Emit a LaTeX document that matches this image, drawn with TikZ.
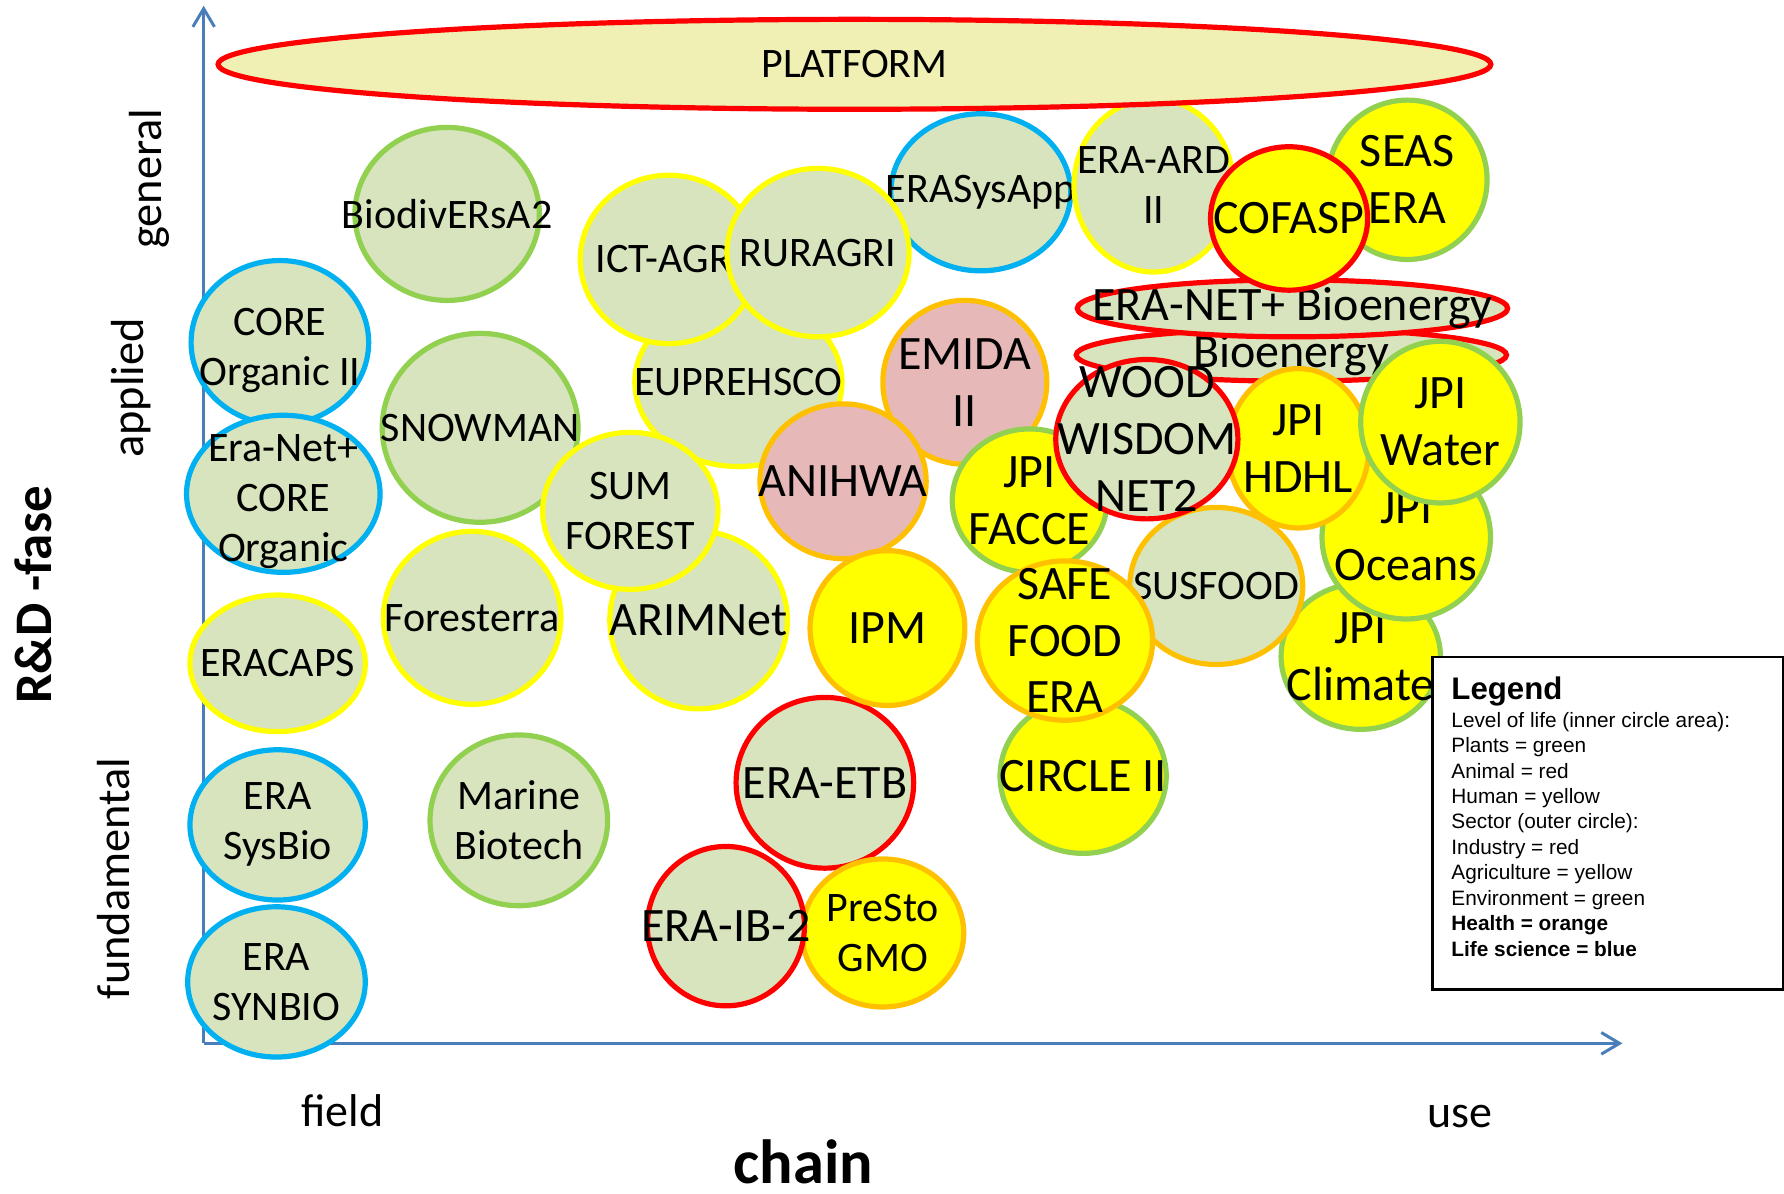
\documentclass[tikz,border=0pt]{standalone}
\usepackage{fontspec}
\setmainfont{Carlito}
\newfontfamily\legendfont{Liberation Sans}
\usetikzlibrary{shapes.geometric,arrows.meta}

\definecolor{plantgreen}{HTML}{D7E4BD}
\definecolor{animalpink}{HTML}{E6B9B8}
\definecolor{humanyellow}{HTML}{FFFF00}
\definecolor{platformfill}{HTML}{F0F0B4}
\definecolor{industryred}{HTML}{FF0000}
\definecolor{agriyellow}{HTML}{FFFF00}
\definecolor{envgreen}{HTML}{92D050}
\definecolor{healthorange}{HTML}{FFC000}
\definecolor{lifeblue}{HTML}{00B0F0}
\definecolor{axisblue}{HTML}{4A7EBB}

\begin{document}
\begin{tikzpicture}[
    x=0.01cm, y=-0.01cm,
    blob/.style={ellipse, line width=1.3pt, inner sep=0pt},
    plant/.style={fill=plantgreen},
    animal/.style={fill=animalpink},
    human/.style={fill=humanyellow},
    industry/.style={draw=industryred},
    agriculture/.style={draw=agriyellow},
    environment/.style={draw=envgreen},
    health/.style={draw=healthorange},
    lifescience/.style={draw=lifeblue},
    smalltxt/.style={font=\fontsize{10.5}{12.5}\selectfont, align=center, inner sep=0pt},
    bigtxt/.style={font=\fontsize{12}{14.2}\selectfont, align=center, inner sep=0pt},
    tag/.style={label={[smalltxt]center:#1}},
    lowtag/.style={label={[smalltxt, yshift=-2pt]center:#1}},
    bigtag/.style={label={[bigtxt]center:#1}},
    axis/.style={draw=axisblue, line width=0.75pt, -{Straight Barb[length=1.6mm,width=1.9mm]}},
    axistxt/.style={font=\fontsize{11.6}{14}\selectfont, rotate=90, anchor=base, inner sep=0pt},
]
\useasboundingbox (0,0) rectangle (1568,1049.4);

% axes
\coordinate (origin) at (179,917);
\coordinate (ytip) at (179,5);
\coordinate (xtip) at (1426,917);
\draw[axis] (origin) -- (ytip);
\draw[axis] (origin) -- (xtip);

\node[axistxt] (general) at (142,157) {general};
\node[axistxt] (applied) at (126,341) {applied};
\node[axistxt] (fundamental) at (114,772) {fundamental};
\node[axistxt, font=\fontsize{13.2}{15}\selectfont\bfseries] (rdfase) at (45,523) {R\&D -fase};
\node[font=\fontsize{11.5}{14}\selectfont, anchor=base, inner sep=0pt] (field) at (301,990) {field};
\node[font=\fontsize{11.5}{14}\selectfont, anchor=base, inner sep=0pt] (use) at (1283,991) {use};
\node[font=\fontsize{15.6}{18}\selectfont\bfseries, anchor=base, inner sep=0pt] (chain) at (706,1040) {chain};

% left block
\node[blob, plant, environment, minimum width=1.62cm, minimum height=1.52cm, tag=BiodivERsA2] (biodiv) at (393,188) {};
\node[blob, plant, lifescience, minimum width=1.56cm, minimum height=1.44cm, lowtag={CORE\\Organic II}] (coreorg) at (246,301) {};
\node[blob, plant, lifescience, minimum width=1.70cm, minimum height=1.38cm, lowtag={Era-Net+\\CORE\\Organic}] (eranetcore) at (249,434) {};
\node[blob, plant, environment, minimum width=1.72cm, minimum height=1.66cm, tag=SNOWMAN] (snowman) at (422,376) {};
\node[blob, plant, agriculture, minimum width=1.82cm, minimum height=1.48cm, tag=EUPREHSCO] (euprehsco) at (649,336) {};
\node[blob, plant, agriculture, minimum width=1.56cm, minimum height=1.48cm, tag=ICT-AGRI] (ictagri) at (588,228) {};
\node[blob, plant, lifescience, minimum width=1.58cm, minimum height=1.38cm, tag=ERASysApp] (erasysapp) at (862,169) {};
\node[blob, plant, agriculture, minimum width=1.60cm, minimum height=1.48cm, tag=RURAGRI] (ruragri) at (719,222) {};
\node[blob, plant, agriculture, minimum width=1.56cm, minimum height=1.56cm, bigtag=ARIMNet] (arimnet) at (614,545) {};
\node[blob, plant, agriculture, minimum width=1.54cm, minimum height=1.38cm, tag={SUM\\FOREST}] (sumforest) at (554,449) {};
\node[blob, plant, agriculture, minimum width=1.56cm, minimum height=1.52cm, tag=Foresterra] (foresterra) at (415,543) {};
\node[blob, plant, agriculture, minimum width=1.54cm, minimum height=1.20cm, tag=ERACAPS] (eracaps) at (244,583) {};
\node[blob, plant, lifescience, minimum width=1.54cm, minimum height=1.32cm, tag={ERA\\SysBio}] (erasysbio) at (244,725) {};
\node[blob, plant, lifescience, minimum width=1.56cm, minimum height=1.32cm, tag={ERA\\SYNBIO}] (erasynbio) at (243,863) {};
\node[blob, plant, environment, minimum width=1.56cm, minimum height=1.50cm, tag={Marine\\Biotech}] (marine) at (456,721) {};

% middle block
\node[blob, animal, health, minimum width=1.44cm, minimum height=1.44cm, bigtag={EMIDA\\II}] (emida) at (848,336) {};
\node[blob, animal, health, minimum width=1.46cm, minimum height=1.36cm, bigtag=ANIHWA] (anihwa) at (741,423) {};
\node[blob, plant, industry, minimum width=1.56cm, minimum height=1.50cm, bigtag=ERA-ETB] (eraetb) at (725,688) {};
\node[blob, human, health, minimum width=1.36cm, minimum height=1.36cm, bigtag=IPM] (ipm) at (780,552) {};
\node[blob, human, health, minimum width=1.42cm, minimum height=1.30cm, tag={PreSto\\GMO}] (presto) at (776,820) {};
\node[blob, plant, industry, minimum width=1.38cm, minimum height=1.40cm, bigtag=ERA-IB-2] (eraib) at (638,814) {};
\node[blob, plant, agriculture, minimum width=1.40cm, minimum height=1.52cm, tag={ERA-ARD\\II}] (eraard) at (1014,163) {};

% platform on top
\node[blob, fill=platformfill, industry, minimum width=11.18cm, minimum height=0.79cm, tag=PLATFORM] (platform) at (751,56.5) {};

% right block
\node[blob, human, environment, minimum width=1.40cm, minimum height=1.40cm, bigtag={SEAS\\ERA}] (seasera) at (1237,158) {};
\node[blob, plant, industry, minimum width=3.78cm, minimum height=0.46cm, bigtag=Bioenergy] (bioenergy) at (1135,312) {};
\node[blob, plant, industry, minimum width=3.78cm, minimum height=0.50cm, bigtag=ERA-NET+ Bioenergy] (eranetbio) at (1136,271) {};
\node[blob, human, industry, minimum width=1.38cm, minimum height=1.26cm, bigtag=COFASP] (cofasp) at (1133,192) {};
\node[blob, human, environment, minimum width=1.40cm, minimum height=1.28cm, bigtag={JPI\\Climate}] (jpiclimate) at (1196,577) {};
\node[blob, human, environment, minimum width=1.48cm, minimum height=1.44cm, bigtag={JPI\\Oceans}] (jpioceans) at (1236,472) {};
\node[blob, plant, health, minimum width=1.52cm, minimum height=1.38cm, tag=SUSFOOD] (susfood) at (1069,515) {};
\node[blob, human, health, minimum width=1.24cm, minimum height=1.40cm, bigtag={JPI\\HDHL}] (jpihdhl) at (1141,394) {};
\node[blob, human, environment, minimum width=1.40cm, minimum height=1.42cm, bigtag={JPI\\Water}] (jpiwater) at (1266,371) {};
\node[blob, human, environment, minimum width=1.46cm, minimum height=1.36cm, bigtag=CIRCLE II] (circle) at (952,682) {};
\node[blob, human, environment, minimum width=1.36cm, minimum height=1.26cm, bigtag={JPI\\FACCE}] (jpifacce) at (905,440) {};
\node[blob, plant, industry, minimum width=1.60cm, minimum height=1.40cm, bigtag={WOOD\\WISDOM\\NET2}] (wood) at (1008,386) {};
\node[blob, human, health, minimum width=1.54cm, minimum height=1.40cm, bigtag={SAFE\\FOOD\\ERA}] (safefood) at (936,563) {};

% legend
\node[draw, fill=white, line width=0.6pt, minimum width=3.08cm, minimum height=2.92cm, inner sep=0pt, anchor=north west] (legendbox) at (1258,576.6) {};
\node[font=\legendfont\fontsize{5.2}{6.37}\selectfont, align=left, inner sep=0pt, anchor=north west] (legendtext) at (1275,594) {{\fontsize{7.8}{7.8}\selectfont\bfseries Legend}\\[0.57pt]
Level of life (inner circle area):\\
Plants = green\\
Animal = red\\
Human = yellow\\
Sector (outer circle):\\
Industry = red\\
Agriculture = yellow\\
Environment = green\\
\textbf{Health = orange}\\
\textbf{Life science = blue}};
\end{tikzpicture}
\end{document}
